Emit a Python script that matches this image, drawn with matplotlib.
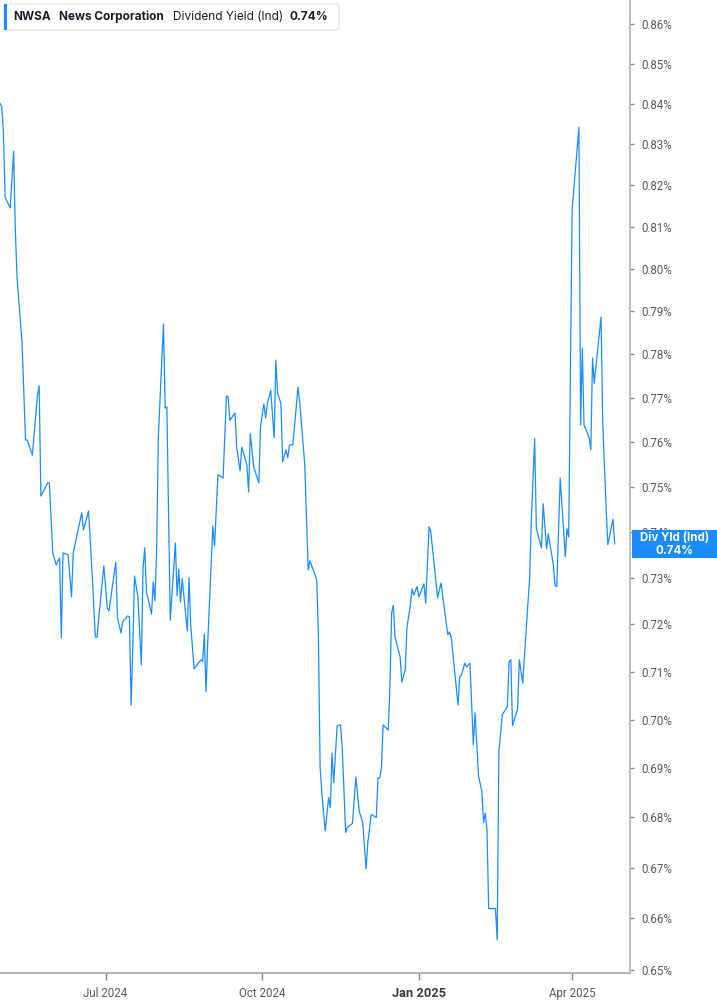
"""
NWSA dividend yield line chart, redrawn in matplotlib.
"""

import matplotlib
matplotlib.use("Agg")
import matplotlib.pyplot as plt
import matplotlib.ticker as mticker
from matplotlib.patches import FancyBboxPatch, Rectangle
import numpy as np
import pandas as pd

# --- data ----------------------------------------------------------------
start_date = "2024-04-30"
# days after start_date for each vertex of the line
day_offsets = [
    0, 1, 2, 3, 6, 8, 9, 10, 13, 15, 16, 19, 22, 23, 24, 28, 29, 31, 33, 35,
    36, 37, 40, 42, 43, 45, 48, 49, 52, 54, 56, 57, 59, 61, 63, 64, 68, 69,
    71, 72, 75, 76, 77, 78, 79, 81, 83, 84, 85, 86, 89, 90, 91, 92, 93, 96,
    97, 98, 100, 103, 104, 105, 106, 107, 110, 111, 112, 114, 118, 119, 120,
    121, 122, 125, 126, 128, 131, 133, 134, 135, 138, 139, 141, 142, 145,
    146, 147, 149, 152, 153, 155, 156, 157, 159, 161, 162, 163, 165, 166,
    168, 169, 170, 172, 175, 176, 179, 181, 182, 184, 186, 187, 188, 189,
    191, 193, 194, 195, 196, 198, 200, 201, 203, 204, 207, 209, 211, 213,
    215, 216, 218, 221, 222, 223, 224, 225, 228, 229, 230, 231, 232, 235,
    236, 238, 239, 241, 242, 243, 245, 246, 249, 250, 252, 253, 257, 259,
    263, 264, 265, 269, 270, 271, 273, 274, 276, 278, 279, 281, 283, 284,
    285, 286, 287, 291, 292, 293, 295, 298, 299, 300, 301, 304, 305, 307,
    309, 311, 312, 314, 315, 318, 319, 321, 322, 325, 326, 327, 329, 332,
    333, 334, 336, 340, 341, 342, 343, 346, 347, 348, 349, 353, 354, 356,
    357, 360, 361,
]
# dividend yield, percent
div_yield = [
    0.8401, 0.8392, 0.8330, 0.8171, 0.8145, 0.8283, 0.8092, 0.7980, 0.7821,
    0.7604, 0.7604, 0.7570, 0.7706, 0.7727, 0.7479, 0.7508, 0.7508, 0.7354,
    0.7328, 0.7343, 0.7171, 0.7354, 0.7350, 0.7259, 0.7354, 0.7389, 0.7442,
    0.7404, 0.7446, 0.7317, 0.7173, 0.7173, 0.7252, 0.7326, 0.7235, 0.7229,
    0.7334, 0.7214, 0.7182, 0.7205, 0.7218, 0.7216, 0.7030, 0.7152, 0.7304,
    0.7259, 0.7114, 0.7321, 0.7365, 0.7270, 0.7222, 0.7291, 0.7250, 0.7365,
    0.7611, 0.7870, 0.7676, 0.7679, 0.7209, 0.7376, 0.7261, 0.7319, 0.7248,
    0.7298, 0.7186, 0.7300, 0.7199, 0.7106, 0.7125, 0.7121, 0.7180, 0.7058,
    0.7161, 0.7413, 0.7369, 0.7526, 0.7519, 0.7704, 0.7701, 0.7649, 0.7665,
    0.7588, 0.7535, 0.7588, 0.7548, 0.7488, 0.7618, 0.7544, 0.7508, 0.7634,
    0.7686, 0.7654, 0.7686, 0.7717, 0.7609, 0.7786, 0.7711, 0.7686, 0.7555,
    0.7582, 0.7564, 0.7593, 0.7593, 0.7724, 0.7691, 0.7548, 0.7317, 0.7337,
    0.7317, 0.7296, 0.7178, 0.6902, 0.6850, 0.6773, 0.6840, 0.6820, 0.6931,
    0.6870, 0.6987, 0.6989, 0.6943, 0.6770, 0.6780, 0.6788, 0.6882, 0.6812,
    0.6790, 0.6697, 0.6749, 0.6806, 0.6800, 0.6880, 0.6880, 0.6900, 0.6989,
    0.6978, 0.7068, 0.7224, 0.7241, 0.7173, 0.7131, 0.7078, 0.7104, 0.7194,
    0.7241, 0.7276, 0.7263, 0.7281, 0.7259, 0.7287, 0.7246, 0.7411, 0.7400,
    0.7257, 0.7289, 0.7178, 0.7184, 0.7173, 0.7030, 0.7089, 0.7093, 0.7118,
    0.7110, 0.7118, 0.6948, 0.7014, 0.6886, 0.6852, 0.6790, 0.6809, 0.6775,
    0.6619, 0.6619, 0.6558, 0.6933, 0.7010, 0.7027, 0.7121, 0.7125, 0.6987,
    0.7023, 0.7125, 0.7076, 0.7188, 0.7296, 0.7420, 0.7607, 0.7407, 0.7365,
    0.7462, 0.7363, 0.7396, 0.7328, 0.7283, 0.7281, 0.7519, 0.7346, 0.7407,
    0.7389, 0.8140, 0.8342, 0.7638, 0.7814, 0.7638, 0.7609, 0.7582, 0.7791,
    0.7733, 0.7886, 0.7642, 0.7449, 0.7372, 0.7428, 0.7374,
]
y_ticks = [0.65, 0.66, 0.67, 0.68, 0.69, 0.70, 0.71, 0.72, 0.73, 0.74, 0.75,
           0.76, 0.77, 0.78, 0.79, 0.80, 0.81, 0.82, 0.83, 0.84, 0.85, 0.86]
x_tick_dates = ["2024-07-01", "2024-10-01", "2025-01-01", "2025-04-01"]
x_tick_labels = ["Jul 2024", "Oct 2024", "Jan 2025", "Apr 2025"]
x_range = ["2024-04-30", "2025-05-05"]
y_range = (0.6494, 0.8662)

symbol = "NWSA"
company = "News Corporation"
metric = "Dividend Yield (Ind)"
metric_short = "Div Yld (Ind)"

LINE_BLUE = "#1a8cff"
AXIS_GREY = "#b4b4b4"
TEXT_GREY = "#5a5a5a"

W, H = 717, 1005
plt.rcParams["font.family"] = ["Inter", "DejaVu Sans"]

dates = pd.Timestamp(start_date) + pd.to_timedelta(day_offsets, unit="D")
last_value = div_yield[-1]

fig = plt.figure(figsize=(W / 100, H / 100), dpi=100)
ax = fig.add_axes([0, 32 / H, 630 / W, 1 - 32 / H])

ax.plot(dates, div_yield, color=LINE_BLUE, linewidth=0.9)

# axes / scales
ax.set_yscale("log")
ax.set_ylim(*y_range)
ax.set_xlim(pd.Timestamp(x_range[0]), pd.Timestamp(x_range[1]))

ax.yaxis.set_major_locator(mticker.FixedLocator(y_ticks))
ax.yaxis.set_minor_locator(mticker.NullLocator())
ax.yaxis.set_major_formatter(mticker.FixedFormatter([f"{v:.2f}%" for v in y_ticks]))
ax.yaxis.tick_right()
ax.tick_params(axis="y", length=3, width=1, color="#888888", pad=5,
               labelsize=8.3, labelcolor=TEXT_GREY)
for lbl in ax.get_yticklabels():
    lbl.set_fontfamily(["Roboto", "DejaVu Sans"])

ax.set_xticks([pd.Timestamp(d) for d in x_tick_dates])
ax.set_xticklabels(x_tick_labels)
ax.xaxis.set_minor_locator(mticker.NullLocator())
ax.tick_params(axis="x", length=5, width=1, color="#888888", pad=5,
               labelsize=8.3, labelcolor=TEXT_GREY)
for lbl in ax.get_xticklabels():
    lbl.set_fontfamily(["Roboto", "DejaVu Sans"])
    if lbl.get_text().startswith("Jan"):
        lbl.set_fontweight("bold")
        lbl.set_color("#3a3a3a")
        lbl.set_fontsize(9.3)

for side in ("left", "top"):
    ax.spines[side].set_visible(False)
ax.spines["bottom"].set_color(AXIS_GREY)
ax.spines["bottom"].set_linewidth(1.5)
ax.spines["right"].set_color(AXIS_GREY)
ax.spines["right"].set_linewidth(1.2)

# header box
fig.patches.append(FancyBboxPatch((4 / W, 1 - 30 / H), 335 / W, 26 / H,
                                  boxstyle="round,pad=0,rounding_size=0.004",
                                  transform=fig.transFigure, facecolor="white",
                                  edgecolor="#e6e6e6", linewidth=1, zorder=5))
fig.patches.append(Rectangle((4 / W, 1 - 30 / H), 3 / W, 26 / H,
                             transform=fig.transFigure, facecolor=LINE_BLUE,
                             edgecolor="none", zorder=6))
header_y = 1 - 17 / H
for x_px, txt, weight in [(13, symbol, "bold"), (59, company, "bold"),
                          (173, metric, "normal"), (290, f"{last_value:.2f}%", "bold")]:
    fig.text(x_px / W, header_y, txt, fontsize=8.5, fontweight=weight,
             color="#1c1c2a", va="center", ha="left", zorder=7)

# last-value tag on the right axis
fig.canvas.draw()
y_disp = ax.transData.transform((ax.get_xlim()[0], last_value))[1]
y_fig = y_disp / (H)
tag_h = 28 / H
tag = Rectangle((632 / W, y_fig - tag_h / 2), (W - 632) / W, tag_h,
                transform=fig.transFigure, facecolor=LINE_BLUE,
                edgecolor="none", zorder=10)
fig.patches.append(tag)
tag_x = (632 + (W - 632) / 2) / W
fig.text(tag_x, y_fig + 6 / H, metric_short, color="white", fontsize=8.3,
         fontweight="bold", ha="center", va="center", zorder=11)
fig.text(tag_x, y_fig - 7 / H, f"{last_value:.2f}%", color="white", fontsize=8.3,
         fontweight="bold", ha="center", va="center", zorder=11)

fig.savefig("out.png", dpi=100, facecolor="white")
